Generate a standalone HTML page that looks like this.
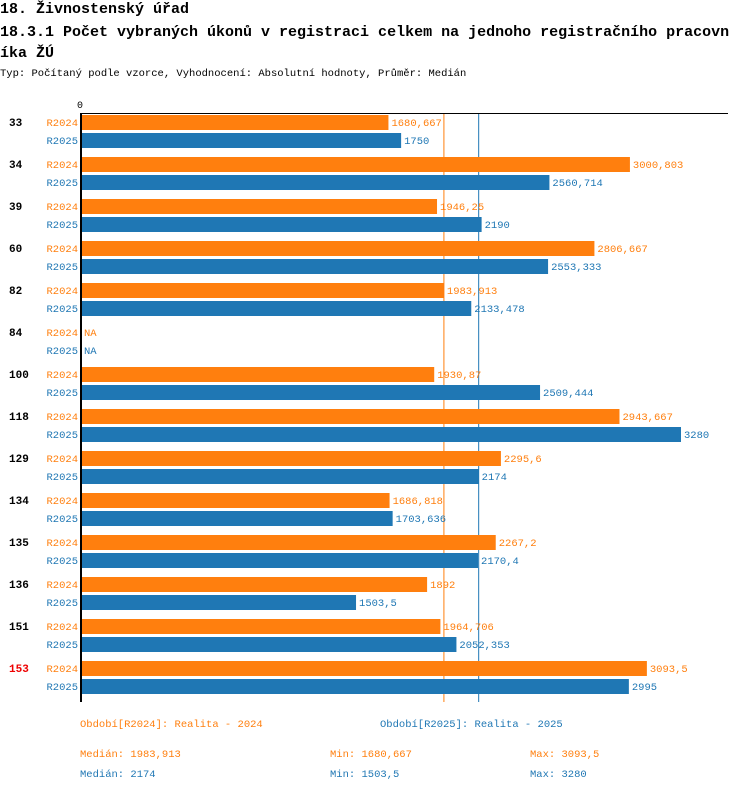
<!DOCTYPE html>
<html><head><meta charset="utf-8"><style>
body{margin:0;background:#fff;width:750px;height:792px;overflow:hidden;font-family:"Liberation Mono","DejaVu Sans Mono",monospace;}
svg text{font-family:"Liberation Mono","DejaVu Sans Mono",monospace;}
</style></head><body>
<svg id="c" width="750" height="792" xmlns="http://www.w3.org/2000/svg">
<text x="0" y="13" font-size="15" font-weight="bold">18. Živnostenský úřad</text>
<text x="0" y="36" font-size="15" font-weight="bold">18.3.1 Počet vybraných úkonů v registraci celkem na jednoho registračního pracovn</text>
<text x="0" y="57" font-size="15" font-weight="bold">íka ŽÚ</text>
<text x="0" y="76" font-size="10.5">Typ: Počítaný podle vzorce, Vyhodnocení: Absolutní hodnoty, Průměr: Medián</text>
<g id="plot"></g>
<text x="80" y="727" font-size="10.5" fill="#ff7f0e">Období[R2024]: Realita - 2024</text>
<text x="380" y="727" font-size="10.5" fill="#1f77b4">Období[R2025]: Realita - 2025</text>
<text x="80" y="757" font-size="10.5" fill="#ff7f0e">Medián: 1983,913</text>
<text x="330" y="757" font-size="10.5" fill="#ff7f0e">Min: 1680,667</text>
<text x="530" y="757" font-size="10.5" fill="#ff7f0e">Max: 3093,5</text>
<text x="80" y="777" font-size="10.5" fill="#1f77b4">Medián: 2174</text>
<text x="330" y="777" font-size="10.5" fill="#1f77b4">Min: 1503,5</text>
<text x="530" y="777" font-size="10.5" fill="#1f77b4">Max: 3280</text>
</svg>
<script>
const categories=["33","34","39","60","82","84","100","118","129","134","135","136","151","153"];
const r2024=[1680.667,3000.803,1946.25,2806.667,1983.913,null,1930.87,2943.667,2295.6,1686.818,2267.2,1892,1964.706,3093.5];
const r2025=[1750,2560.714,2190,2553.333,2133.478,null,2509.444,3280,2174,1703.636,2170.4,1503.5,2052.353,2995];
const medians=[1983.913,2174];
const highlight=["153"];
const NS="http://www.w3.org/2000/svg";
const g=document.getElementById('plot');
const x0=81,scale=600/3280;
function xs(v){return x0+v*scale;}
function rowY(i){return 115+42*i;}
function fmt(v){return String(v).replace('.',',');}
function mk(t,a,txt){const e=document.createElementNS(NS,t);for(const k in a)e.setAttribute(k,a[k]);if(txt!=null)e.textContent=txt;g.appendChild(e);return e;}
const cols=["#ff7f0e","#1f77b4"];
medians.forEach((m,k)=>{
  let l=mk('line',{x1:xs(m),x2:xs(m),y1:113,y2:702,stroke:cols[k],'stroke-width':1});
  
  
});
categories.forEach((c,i)=>{
  const y=rowY(i);
  let t=mk('text',{x:9,y:y+11,'font-size':11,'font-weight':'bold',fill:highlight.includes(c)?'#e00':'#000'},c);
  
  
  [r2024,r2025].forEach((s,k)=>{
    const yy=y+k*18;
    let l=mk('text',{x:78,y:yy+11,'font-size':10.5,'text-anchor':'end',fill:cols[k]},k?'R2025':'R2024');
    
    
    const v=s[i];
    if(v!=null){
      let r=mk('rect',{x:x0,y:yy,width:xs(v)-x0,height:15,fill:cols[k]});
      
      
    }
    let vl=mk('text',{x:(v!=null?xs(v):x0)+3,y:yy+11,'font-size':10.5,fill:cols[k]},v!=null?fmt(v):'NA');
    
    
  });
});
let ax=mk('line',{x1:81,x2:728,y1:113.5,y2:113.5,stroke:'#000','stroke-width':1});


let ay=mk('line',{x1:81,x2:81,y1:113,y2:702,stroke:'#000','stroke-width':2});


let z=mk('text',{x:80,y:108,'font-size':10,'text-anchor':'middle'},'0');


</script>
</body></html>
